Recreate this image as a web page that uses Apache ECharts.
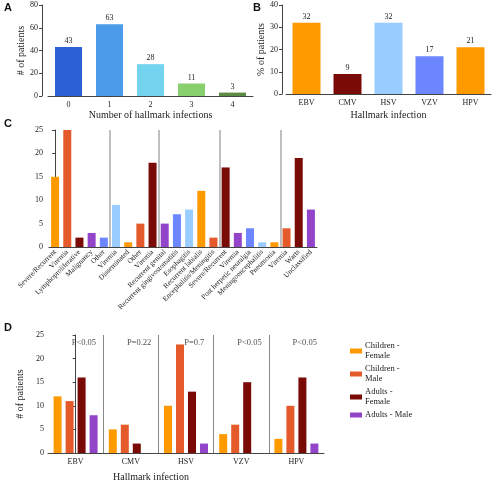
<!DOCTYPE html>
<html>
<head>
<meta charset="utf-8">
<script src="https://cdn.jsdelivr.net/npm/echarts@6/dist/echarts.min.js"></script>
<style>
  html, body { margin: 0; padding: 0; background: #fff; }
  #chart { width: 500px; height: 483px; }
</style>
</head>
<body>
<div id="chart"></div>
<script>
// data
const hallmarkCounts = ['0', '1', '2', '3', '4'];
const patientsByCount = [43, 63, 28, 11, 3];

const viruses = ['EBV', 'CMV', 'HSV', 'VZV', 'HPV'];
const pctPatients = [32, 9, 32, 17, 21];

const manifestations = [
  'Severe/Recurrent', 'Viremia', 'Lymphoproliferative', 'Malignancy', 'Other',
  'Viremia', 'Disseminated', 'Other', 'Viremia', 'Recurrent genital',
  'Recurrent gingivostomatitis', 'Esophagitis', 'Recurrent labialis', 'Encephalitis/Meningitis',
  'Severe/Recurrent', 'Viremia', 'Post herpetic neuralgia', 'Meningoencephalitis', 'Pneumonia',
  'Viremia', 'Warts', 'Unclassified'
];
const manifestationCounts = [15, 25, 2, 3, 2, 9, 1, 5, 18, 5, 7, 8, 12, 2, 17, 3, 4, 1, 1, 4, 19, 8];
const groupSeparators = [4.5, 8.5, 13.5, 18.5];

const childrenFemale = [12, 5, 10, 4, 3];
const childrenMale = [11, 6, 23, 6, 10];
const adultsFemale = [16, 2, 13, 15, 16];
const adultsMale = [8, 0, 2, 0, 2];
const pValues = ['P<0.05', 'P=0.22', 'P=0.7', 'P<0.05', 'P<0.05'];

// styles
const FONT = 'Liberation Serif';
const AXIS = '#444';
const countColors = ['#2C61D6', '#4A9CE8', '#74D3EF', '#88CF6E', '#5E8B42'];
const virusColors = ['#FF9900', '#7A0A06', '#99CCFF', '#6B86FF', '#FF9900'];
const cycle = ['#FF9900', '#E55A2B', '#7A0A06', '#9245C8', '#6B86FF', '#99CCFF'];

const axisLine = { lineStyle: { color: AXIS, width: 1 } };
const axisTick = { lineStyle: { color: AXIS }, length: 3 };
const lbl = { fontFamily: FONT, fontSize: 8, color: '#222' };
const nameStyle = { fontFamily: FONT, fontSize: 10, color: '#222' };

function catX(grid, data, extra) {
  return Object.assign({
    type: 'category', gridIndex: grid, data: data,
    axisLine: axisLine, axisTick: Object.assign({ alignWithLabel: true }, axisTick),
    axisLabel: Object.assign({ margin: 5 }, lbl), splitLine: { show: false }
  }, extra || {});
}
function valY(grid, max, interval, extra) {
  return Object.assign({
    type: 'value', gridIndex: grid, min: 0, max: max, interval: interval,
    axisLine: Object.assign({ show: true }, axisLine), axisTick: Object.assign({ show: true }, axisTick),
    axisLabel: Object.assign({ margin: 4 }, lbl), splitLine: { show: false },
    nameLocation: 'middle', nameTextStyle: nameStyle
  }, extra || {});
}

const chart = echarts.init(document.getElementById('chart'));
chart.setOption({
  animation: false,
  textStyle: { fontFamily: FONT },
  grid: [
    { left: 48, top: 5, width: 205, height: 91 },
    { left: 286, top: 5, width: 205, height: 89 },
    { left: 49, top: 130, width: 268, height: 117 },
    { left: 48, top: 335, width: 276, height: 118 }
  ],
  xAxis: [
    catX(0, hallmarkCounts, { name: 'Number of hallmark infections', nameLocation: 'middle', nameGap: 14, nameTextStyle: nameStyle }),
    catX(1, viruses, { name: 'Hallmark infection', nameLocation: 'middle', nameGap: 16, nameTextStyle: nameStyle }),
    catX(2, manifestations, { axisLabel: Object.assign({}, lbl, { fontSize: 7.3, rotate: 45, interval: 0, margin: 4 }) }),
    catX(3, viruses, { name: 'Hallmark infection', nameLocation: 'middle', nameGap: 19,
      nameTextStyle: Object.assign({}, nameStyle, { padding: [0, 70, 0, 0] }) }),
    { type: 'value', gridIndex: 2, show: false, min: -0.5, max: manifestations.length - 0.5 },
    { type: 'value', gridIndex: 3, show: false, min: -0.5, max: viruses.length - 0.5 }
  ],
  yAxis: [
    valY(0, 80, 20, { offset: 6, name: '# of patients', nameGap: 15 }),
    valY(1, 40, 10, { offset: 4, name: '% of patients', nameGap: 15 }),
    valY(2, 25, 5, { offset: 2 }),
    valY(3, 25, 5, { name: '# of patients', nameGap: 15 })
  ],
  legend: {
    orient: 'vertical', left: 345, top: 336, itemWidth: 12, itemHeight: 5, itemGap: 3, itemStyle: { borderWidth: 0 },
    icon: 'rect', data: ['Children -\nFemale', 'Children -\nMale', 'Adults -\nFemale', 'Adults - Male'],
    textStyle: { fontFamily: FONT, fontSize: 8.5, color: '#222', lineHeight: 10, padding: [0, 0, 0, -2] }
  },
  graphic: [
    { type: 'text', left: 4, top: 2, style: { text: 'A', font: 'bold 11px Liberation Sans', fill: '#111' } },
    { type: 'text', left: 253, top: 2, style: { text: 'B', font: 'bold 11px Liberation Sans', fill: '#111' } },
    { type: 'text', left: 4, top: 118, style: { text: 'C', font: 'bold 11px Liberation Sans', fill: '#111' } },
    { type: 'text', left: 4, top: 322, style: { text: 'D', font: 'bold 11px Liberation Sans', fill: '#111' } }
  ],
  series: [
    {
      type: 'bar', xAxisIndex: 0, yAxisIndex: 0, data: patientsByCount, barWidth: 27,
      itemStyle: { color: p => countColors[p.dataIndex] },
      label: Object.assign({ show: true, position: 'top', distance: 2 }, lbl)
    },
    {
      type: 'bar', xAxisIndex: 1, yAxisIndex: 1, data: pctPatients, barWidth: 28,
      itemStyle: { color: p => virusColors[p.dataIndex] },
      label: Object.assign({ show: true, position: 'top', distance: 2 }, lbl)
    },
    {
      type: 'bar', xAxisIndex: 2, yAxisIndex: 2, data: manifestationCounts, barWidth: 8,
      itemStyle: { color: p => cycle[p.dataIndex % cycle.length] }
    },
    {
      type: 'line', xAxisIndex: 4, yAxisIndex: 2, data: [],
      markLine: {
        silent: true, symbol: 'none', label: { show: false },
        lineStyle: { color: '#aaa', width: 1.5, type: 'solid' },
        data: groupSeparators.map(x => ({ xAxis: x }))
      }
    },
    { name: 'Children -\nFemale', type: 'bar', xAxisIndex: 3, yAxisIndex: 3, data: childrenFemale, barWidth: 8, barGap: '50%', itemStyle: { color: '#FF9900' } },
    { name: 'Children -\nMale', type: 'bar', xAxisIndex: 3, yAxisIndex: 3, data: childrenMale, barWidth: 8, barGap: '50%', itemStyle: { color: '#E55A2B' } },
    { name: 'Adults -\nFemale', type: 'bar', xAxisIndex: 3, yAxisIndex: 3, data: adultsFemale, barWidth: 8, barGap: '50%', itemStyle: { color: '#7A0A06' } },
    { name: 'Adults - Male', type: 'bar', xAxisIndex: 3, yAxisIndex: 3, data: adultsMale, barWidth: 8, barGap: '50%', itemStyle: { color: '#9245C8' } },
    {
      type: 'line', xAxisIndex: 5, yAxisIndex: 3, data: [],
      markLine: {
        silent: true, symbol: 'none', label: { show: false },
        lineStyle: { color: '#888', width: 1, type: 'solid' },
        data: [0.5, 1.5, 2.5, 3.5].map(x => ({ xAxis: x }))
      }
    },
    {
      type: 'scatter', xAxisIndex: 5, yAxisIndex: 3, symbolSize: 0, silent: true,
      data: pValues.map((p, i) => [i + 0.15, 23.3]),
      label: Object.assign({ show: true, position: 'inside', formatter: p => pValues[p.dataIndex] }, lbl, { fontSize: 8.5 })
    }
  ]
});
</script>
</body>
</html>
